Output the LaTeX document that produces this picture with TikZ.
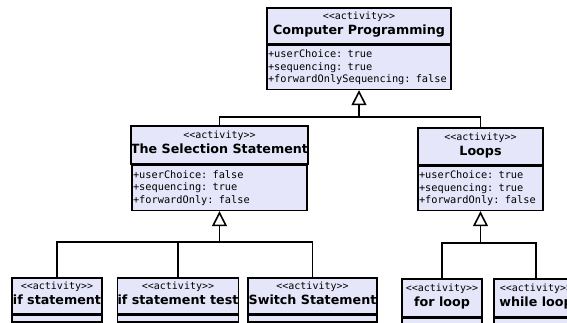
\documentclass[tikz,border=0pt]{standalone}
\usepackage{fontspec}
\setmainfont{DejaVu Sans}
\setmonofont{DejaVu Sans Mono}
\usetikzlibrary{arrows.meta,positioning}

\definecolor{classfill}{RGB}{230,230,250}
\newcommand{\stereo}{{\mdseries\ttfamily\fontsize{10}{12}\selectfont <<activity>>}}

\tikzset{
  umltitle/.style={draw, fill=classfill, line width=1.6pt, inner sep=0pt, anchor=north,
    align=center, text depth=5pt, font=\bfseries\fontsize{12.7}{15}\selectfont},
  umlattrs/.style={draw, fill=classfill, line width=1.6pt, inner xsep=1pt, inner ysep=0pt,
    anchor=north, align=left, font=\ttfamily\fontsize{10.3}{12.5}\selectfont},
  umlpart/.style={draw, fill=classfill, line width=1.6pt, inner sep=0pt, anchor=north},
  assoc/.style={line width=1.6pt},
  generalize/.style={line width=1.6pt, -{Triangle[open, length=15pt, width=15pt]}}
}

\begin{document}
\begin{tikzpicture}[x=1pt, y=-1pt]
  \clip (0,0) rectangle (567,322);

  % Define nodes
  \node[umltitle, minimum width=184pt, minimum height=36pt] (cp) at (359,7) {\stereo\\Computer Programming};
  \node[umlattrs, text width=182pt, minimum height=44pt] (cpattr) at (cp.south) {+userChoice: true\\+sequencing: true\\+forwardOnlySequencing: false};

  \node[umltitle, minimum width=175pt, minimum height=38pt] (sel) at (219.5,125) {\stereo\\The Selection Statement};
  \node[umlattrs, text width=173pt, minimum height=45pt] (selattr) at (sel.south) {+userChoice: false\\+sequencing: true\\+forwardOnly: false};

  \node[umltitle, minimum width=125pt, minimum height=37pt] (loops) at (480.5,127) {\stereo\\Loops};
  \node[umlattrs, text width=123pt, minimum height=44pt] (loopsattr) at (loops.south) {+userChoice: true\\+sequencing: true\\+forwardOnly: false};

  \node[umltitle, minimum width=90pt, minimum height=36pt] (ifst) at (57,277) {\stereo\\if statement};
  \node[umlpart, minimum width=90pt, minimum height=6pt] (ifstattr) at (ifst.south) {};
  \node[umlpart, minimum width=90pt, minimum height=14pt] at (ifstattr.south) {};

  \node[umltitle, minimum width=121pt, minimum height=36pt] (ifsttest) at (178,277) {\stereo\\if statement test};
  \node[umlpart, minimum width=121pt, minimum height=6pt] (ifsttestattr) at (ifsttest.south) {};
  \node[umlpart, minimum width=121pt, minimum height=14pt] at (ifsttestattr.south) {};

  \node[umltitle, minimum width=129pt, minimum height=36pt] (switch) at (312.5,277) {\stereo\\Switch Statement};
  \node[umlpart, minimum width=129pt, minimum height=6pt] (switchattr) at (switch.south) {};
  \node[umlpart, minimum width=129pt, minimum height=14pt] at (switchattr.south) {};

  \node[umltitle, minimum width=80pt, minimum height=38pt] (forloop) at (442,278) {\stereo\\for loop};
  \node[umlpart, minimum width=80pt, minimum height=14pt] at (forloop.south) {};

  \node[umltitle, minimum width=84pt, minimum height=38pt] (whileloop) at (536,278) {\stereo\\while loop};
  \node[umlpart, minimum width=84pt, minimum height=14pt] at (whileloop.south) {};

  % Connect the nodes
  \coordinate (cphub) at (359,117);
  \coordinate (selhub) at (219.5,242);
  \coordinate (loopshub) at (480.5,243);

  \draw[generalize] (cphub) -- (cpattr.south);
  \draw[assoc] (sel.north) |- (cphub) -| (loops.north);

  \draw[generalize] (selhub) -- (selattr.south);
  \draw[assoc] (ifst.north) |- (selhub) -| (switch.north);
  \draw[assoc] (ifsttest.north) |- (selhub);

  \draw[generalize] (loopshub) -- (loopsattr.south);
  \draw[assoc] (forloop.north) |- (loopshub) -| (whileloop.north);
\end{tikzpicture}
\end{document}
